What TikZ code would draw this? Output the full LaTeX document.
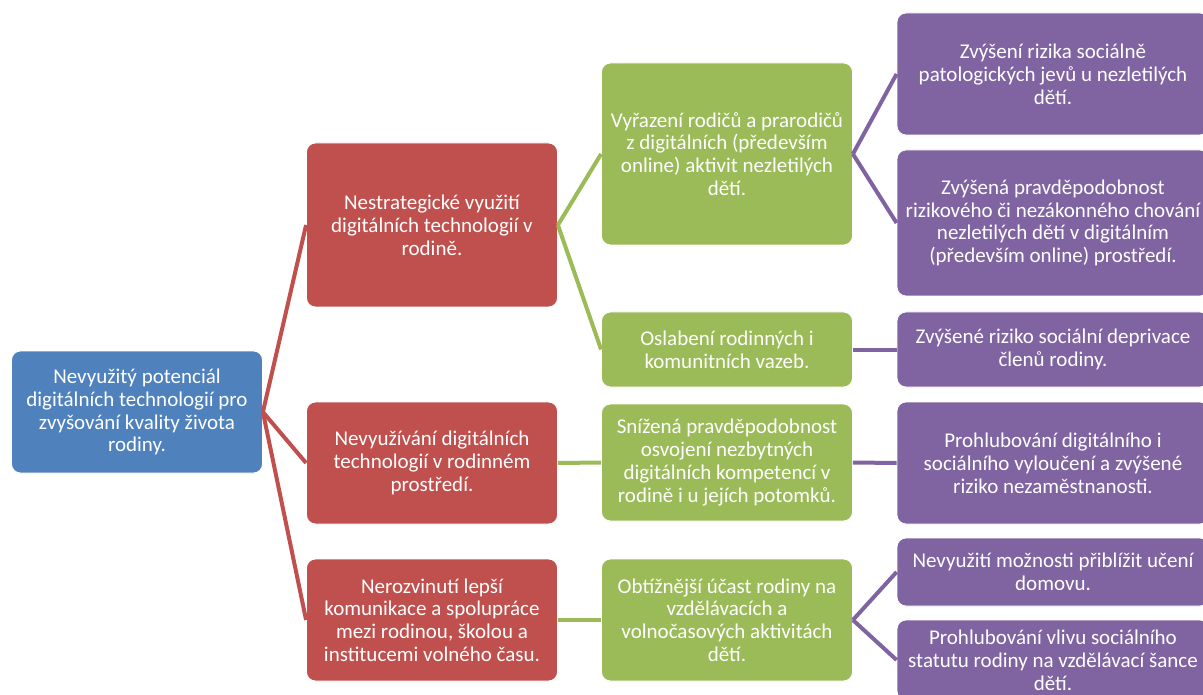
\documentclass[tikz,border=0pt]{standalone}
\usepackage{fontspec}
\setmainfont{Carlito}
\definecolor{rootblue}{RGB}{79,129,189}
\definecolor{causered}{RGB}{192,80,77}
\definecolor{effectgreen}{RGB}{155,187,89}
\definecolor{riskpurple}{RGB}{128,100,162}
\tikzset{
  mapbox/.style={rectangle, rounded corners=9pt, draw=white, line width=0.8pt, text=white,
    align=center, inner sep=0pt, font=\fontsize{21}{22.8}\selectfont},
  rootbox/.style={mapbox, fill=rootblue, minimum width=251pt},
  causebox/.style={mapbox, fill=causered, minimum width=251pt},
  effectbox/.style={mapbox, fill=effectgreen, minimum width=251pt},
  riskbox/.style={mapbox, fill=riskpurple, minimum width=312pt},
  causeline/.style={draw=causered, line width=4pt},
  effectline/.style={draw=effectgreen, line width=4pt},
  riskline/.style={draw=riskpurple, line width=4pt}
}

\begin{document}
\begin{tikzpicture}[x=1pt,y=-1pt]
\useasboundingbox (0,0) rectangle (1203,695);
\clip (0,0) rectangle (1203,695);
\node[rootbox, minimum height=122pt] (root) at (137,412) {Nevyužitý potenciál\\digitálních technologií pro\\zvyšování kvality života\\rodiny.};
\node[causebox, minimum height=164pt] (strat) at (432,225) {Nestrategické využití\\digitálních technologií v\\rodině.};
\node[causebox, minimum height=122pt] (nouse) at (432,463) {Nevyužívání digitálních\\technologií v rodinném\\prostředí.};
\node[causebox, minimum height=122pt] (coop) at (432,620) {Nerozvinutí lepší\\komunikace a spolupráce\\mezi rodinou, školou a\\institucemi volného času.};
\node[effectbox, minimum height=182pt] (excl) at (727,154) {Vyřazení rodičů a prarodičů\\z digitálních (především\\online) aktivit nezletilých\\dětí.};
\node[effectbox, minimum height=75pt] (ties) at (727,349.5) {Oslabení rodinných i\\komunitních vazeb.};
\node[effectbox, minimum height=117pt] (skill) at (727,462.5) {Snížená pravděpodobnost\\osvojení nezbytných\\digitálních kompetencí v\\rodině i u jejích potomků.};
\node[effectbox, minimum height=122pt] (partic) at (727,620) {Obtížnější účast rodiny na\\vzdělávacích a\\volnočasových aktivitách\\dětí.};
\node[riskbox, minimum height=122pt] (patho) at (1053,74) {Zvýšení rizika sociálně\\patologických jevů u nezletilých\\dětí.};
\node[riskbox, minimum height=146pt] (illegal) at (1053,223) {Zvýšená pravděpodobnost\\rizikového či nezákonného chování\\nezletilých dětí v digitálním\\(především online) prostředí.};
\node[riskbox, minimum height=75pt] (depriv) at (1053,349.5) {Zvýšené riziko sociální deprivace\\členů rodiny.};
\node[riskbox, minimum height=122pt] (jobless) at (1053,463) {Prohlubování digitálního i\\sociálního vyloučení a zvýšené\\riziko nezaměstnanosti.};
\node[riskbox, minimum height=68pt] (home) at (1053,572) {Nevyužití možnosti přiblížit učení\\domovu.};
\node[riskbox, minimum height=80pt] (status) at (1053,660) {Prohlubování vlivu sociálního\\statutu rodiny na vzdělávací šance\\dětí.};
\draw[causeline] (root.east) -- (strat.west);
\draw[causeline] (root.east) -- (nouse.west);
\draw[causeline] (root.east) -- (coop.west);
\draw[effectline] (strat.east) -- (excl.west);
\draw[effectline] (strat.east) -- (ties.west);
\draw[effectline] (nouse.east) -- (skill.west);
\draw[effectline] (coop.east) -- (partic.west);
\draw[riskline] (excl.east) -- (patho.west);
\draw[riskline] (excl.east) -- (illegal.west);
\draw[riskline] (ties.east) -- (depriv.west);
\draw[riskline] (skill.east) -- (jobless.west);
\draw[riskline] (partic.east) -- (home.west);
\draw[riskline] (partic.east) -- (status.west);
\end{tikzpicture}
\end{document}
